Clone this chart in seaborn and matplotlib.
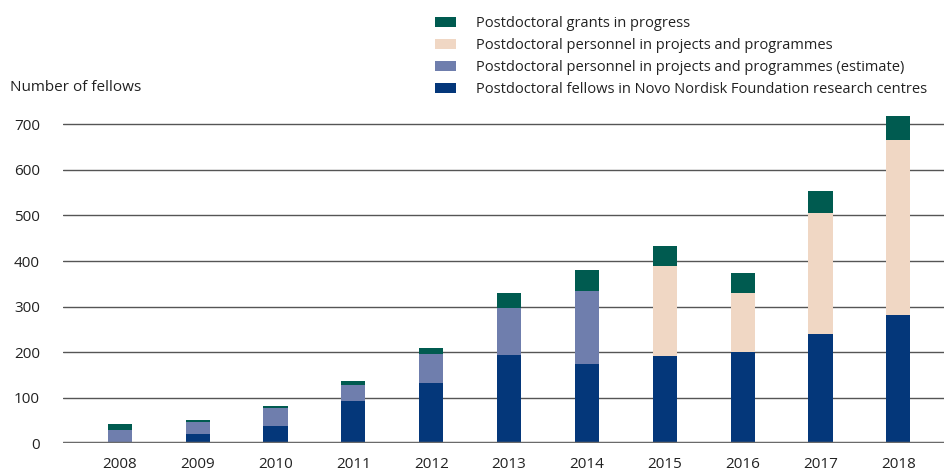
import matplotlib
matplotlib.use("Agg")
import matplotlib.pyplot as plt
import seaborn as sns
import pandas as pd
import numpy as np
from matplotlib.patches import Patch

years = ["2008", "2009", "2010", "2011", "2012", "2013", "2014", "2015", "2016", "2017", "2018"]
centres = [0, 20, 38, 94, 133, 193, 175, 192, 200, 240, 282]
estimate = [29, 27, 39, 35, 63, 103, 159, 0, 0, 0, 0]
personnel = [0, 0, 0, 0, 0, 0, 0, 198, 129, 266, 384]
grants = [13, 4, 5, 8, 13, 33, 47, 43, 44, 48, 52]

labels = [
    "Postdoctoral grants in progress",
    "Postdoctoral personnel in projects and programmes",
    "Postdoctoral personnel in projects and programmes (estimate)",
    "Postdoctoral fellows in Novo Nordisk Foundation research centres",
]
colors = {"grants": "#005B50", "personnel": "#F0D7C4", "estimate": "#6F7EAD", "centres": "#04377A"}

sns.set_theme(style="white")
plt.rcParams["font.family"] = ["Open Sans", "DejaVu Sans"]

df = pd.DataFrame({"year": years, "centres": centres, "estimate": estimate,
                   "personnel": personnel, "grants": grants})

fig = plt.figure(figsize=(9.45, 4.72), dpi=100)
ax = fig.add_axes([0.0667, 0.0604, 0.9333, 0.715])

bottom = np.zeros(len(years))
for key in ["centres", "estimate", "personnel", "grants"]:
    sns.barplot(data=df, x="year", y=key, color=colors[key], bottom=bottom,
                width=0.31, ax=ax, saturation=1, linewidth=0, zorder=3)
    bottom = bottom + df[key].values

ax.set_xlim(-0.73, 10.6)
ax.set_ylim(0, 740)
ax.set_yticks(range(0, 701, 100))
for y in range(100, 701, 100):
    ax.axhline(y, color="#555555", lw=1.0, zorder=1)
ax.axhline(0, color="#6a6a6a", lw=2.5, zorder=4)
for s in ax.spines.values():
    s.set_visible(False)
ax.set_xlabel("")
ax.set_ylabel("")
ax.tick_params(axis="both", length=0, labelsize=11, colors="#222222")
ax.tick_params(axis="y", pad=16.5)
ax.tick_params(axis="x", pad=10)
for t in ax.get_yticklabels():
    t.set_horizontalalignment("right")

fig.text(0.011, 0.815, "Number of fellows", fontsize=11, color="#222222", va="center")

handles = [Patch(facecolor=colors[k], edgecolor="none") for k in ["grants", "personnel", "estimate", "centres"]]
fig.legend(handles, labels, loc="upper left", bbox_to_anchor=(0.4605, 0.966), frameon=False,
           fontsize=10.5, handlelength=1.45, handleheight=0.75, handletextpad=1.35,
           labelspacing=0.48, borderaxespad=0, borderpad=0, labelcolor="#222222")

fig.savefig("out.png", dpi=100)
